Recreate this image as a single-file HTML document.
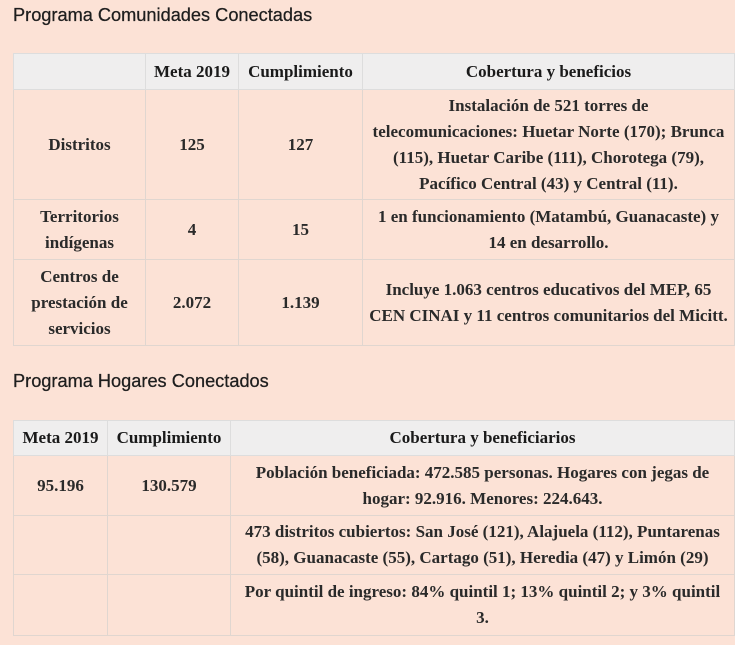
<!DOCTYPE html>
<html><head><meta charset="utf-8"><style>
html,body{margin:0;padding:0;}
body{width:735px;height:645px;background:#fce2d6;position:relative;overflow:hidden;font-family:"Liberation Serif",serif;color:#222;}
h2{position:absolute;margin:0;font-family:"Liberation Sans",sans-serif;font-weight:normal;font-size:18.2px;color:#1e1e1e;left:13px;-webkit-text-stroke:0.25px #1e1e1e;}
table{position:absolute;border-collapse:collapse;table-layout:fixed;left:13px;}
td,th{border:1px solid #e0d6d0;text-align:center;vertical-align:middle;padding:0 4px;font-size:17px;line-height:26px;font-weight:bold;white-space:nowrap;}
th{background:#efeeee;border-color:#ddd;color:#1a1a1a;}
td{font-weight:bold;color:#2a2a2a;}
</style></head><body>
<h2 style="top:5px">Programa Comunidades Conectadas</h2>
<table style="top:53px;width:721px">
<colgroup><col style="width:132px"><col style="width:93px"><col style="width:124px"><col style="width:372px"></colgroup>
<tr style="height:36px"><th></th><th>Meta 2019</th><th>Cumplimiento</th><th>Cobertura y beneficios</th></tr>
<tr style="height:110px"><td>Distritos</td><td>125</td><td>127</td><td>Instalación de 521 torres de<br>telecomunicaciones: Huetar Norte (170); Brunca<br>(115), Huetar Caribe (111), Chorotega (79),<br>Pacífico Central (43) y Central (11).</td></tr>
<tr style="height:60px"><td>Territorios<br>indígenas</td><td>4</td><td>15</td><td>1 en funcionamiento (Matambú, Guanacaste) y<br>14 en desarrollo.</td></tr>
<tr style="height:86px"><td>Centros de<br>prestación de<br>servicios</td><td>2.072</td><td>1.139</td><td>Incluye 1.063 centros educativos del MEP, 65<br>CEN CINAI y 11 centros comunitarios del Micitt.</td></tr>
</table>
<h2 style="top:371px">Programa Hogares Conectados</h2>
<table style="top:420px;width:721px">
<colgroup><col style="width:94px"><col style="width:123px"><col style="width:504px"></colgroup>
<tr style="height:35px"><th>Meta 2019</th><th>Cumplimiento</th><th>Cobertura y beneficiarios</th></tr>
<tr style="height:60px"><td>95.196</td><td>130.579</td><td>Población beneficiada: 472.585 personas. Hogares con jegas de<br>hogar: 92.916. Menores: 224.643.</td></tr>
<tr style="height:59px"><td></td><td></td><td>473 distritos cubiertos: San José (121), Alajuela (112), Puntarenas<br>(58), Guanacaste (55), Cartago (51), Heredia (47) y Limón (29)</td></tr>
<tr style="height:61px"><td></td><td></td><td>Por quintil de ingreso: 84% quintil 1; 13% quintil 2; y 3% quintil<br>3.</td></tr>
</table>
</body></html>
